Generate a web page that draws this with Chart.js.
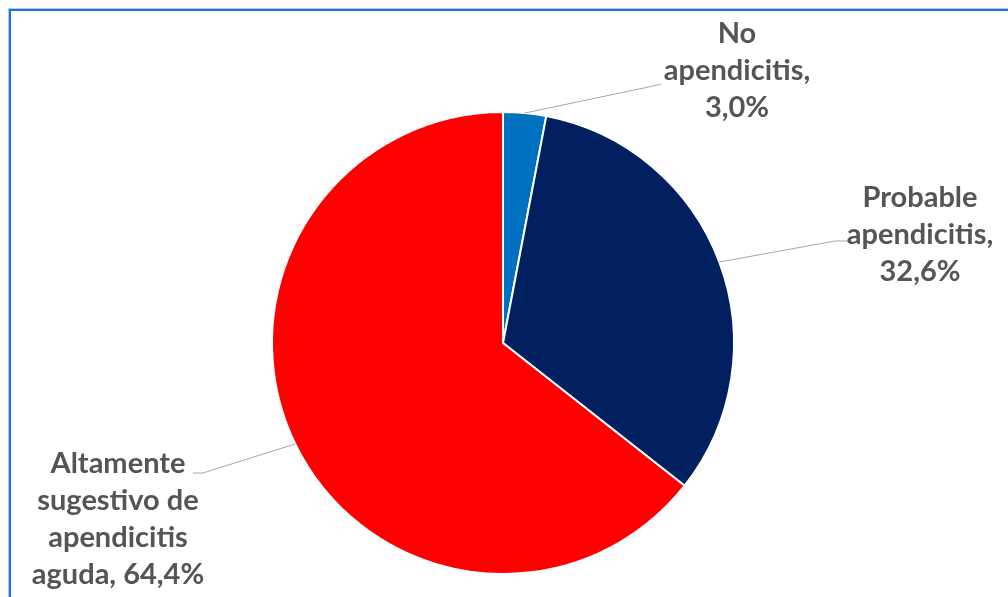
<!DOCTYPE html>
<html>
<head>
<meta charset="utf-8">
<script src="https://cdn.jsdelivr.net/npm/chart.js@4"></script>
<style>
  html, body { margin: 0; padding: 0; background: #fff; overflow: hidden; }
  #wrap { position: relative; width: 1008px; height: 597px; }
  #frame {
    position: absolute; left: 9px; top: 9px; width: 1100px; height: 700px;
    border-left: 2px solid #1C74CC; border-top: 2px solid #1C74CC;
    box-shadow: -1px -1px 0 0 #A9CFF0;
  }
  canvas { position: absolute; left: 0; top: 0; }
</style>
</head>
<body>
<div id="wrap">
  <div id="frame"></div>
  <canvas id="pieChart" width="1008" height="597"></canvas>
</div>
<script>
// datos del gráfico
const categorias = ['No apendicitis', 'Probable apendicitis', 'Altamente sugestivo de apendicitis aguda'];
const porcentajes = [3.0, 32.6, 64.4];
const colores = ['#0070C0', '#002060', '#FF0000'];

// posición de etiquetas (px relativos al centro del pastel)
const etiquetas = [
  { cx: 234, y0: -300, maxW: 150, elbow: [155, -258], end: [158, -259] },
  { cx: 417, y0: -136, maxW: 150, elbow: [332, -102], end: [345, -102] },
  { cx: -385, y0: 130, maxW: 190, elbow: [-300, 130], end: [-310, 130] }
];

const fmt = v => v.toFixed(1).replace('.', ',') + '%';

function envolver(ctx, texto, maxW) {
  const palabras = texto.split(' ');
  const lineas = [];
  let actual = '';
  palabras.forEach(p => {
    const prueba = actual ? actual + ' ' + p : p;
    if (actual && ctx.measureText(prueba).width > maxW) {
      lineas.push(actual);
      actual = p;
    } else {
      actual = prueba;
    }
  });
  if (actual) lineas.push(actual);
  return lineas;
}

const pluginEtiquetas = {
  id: 'etiquetasExcel',
  afterDatasetsDraw(chart) {
    const ctx = chart.ctx;
    const meta = chart.getDatasetMeta(0);
    ctx.save();
    meta.data.forEach((arc, i) => {
      const L = etiquetas[i];
      const cx = arc.x, cy = arc.y;
      const mid = (arc.startAngle + arc.endAngle) / 2;
      const r = arc.outerRadius;
      // línea guía
      ctx.strokeStyle = '#A6A6A6';
      ctx.lineWidth = 1;
      ctx.beginPath();
      ctx.moveTo(cx + Math.cos(mid) * r, cy + Math.sin(mid) * r);
      ctx.lineTo(cx + L.elbow[0], cy + L.elbow[1]);
      ctx.lineTo(cx + L.end[0], cy + L.end[1]);
      ctx.stroke();
      // texto
      ctx.font = 'bold 29px Lato, "Open Sans", sans-serif';
      ctx.fillStyle = '#555555';
      ctx.textAlign = 'center';
      ctx.textBaseline = 'alphabetic';
      const texto = categorias[i] + ', ' + fmt(porcentajes[i]);
      const lineas = envolver(ctx, texto, L.maxW);
      lineas.forEach((ln, k) => {
        ctx.fillText(ln, cx + L.cx, cy + L.y0 + k * 37);
      });
    });
    ctx.restore();
  }
};

new Chart(document.getElementById('pieChart'), {
  type: 'pie',
  data: {
    labels: categorias,
    datasets: [{
      data: porcentajes,
      backgroundColor: colores,
      borderColor: '#FFFFFF',
      borderWidth: 2
    }]
  },
  options: {
    responsive: false,
    animation: false,
    events: [],
    layout: { padding: { left: 271, right: 273, top: 111, bottom: 22 } },
    plugins: {
      legend: { display: false },
      tooltip: { enabled: false }
    }
  },
  plugins: [pluginEtiquetas]
});
</script>
</body>
</html>
